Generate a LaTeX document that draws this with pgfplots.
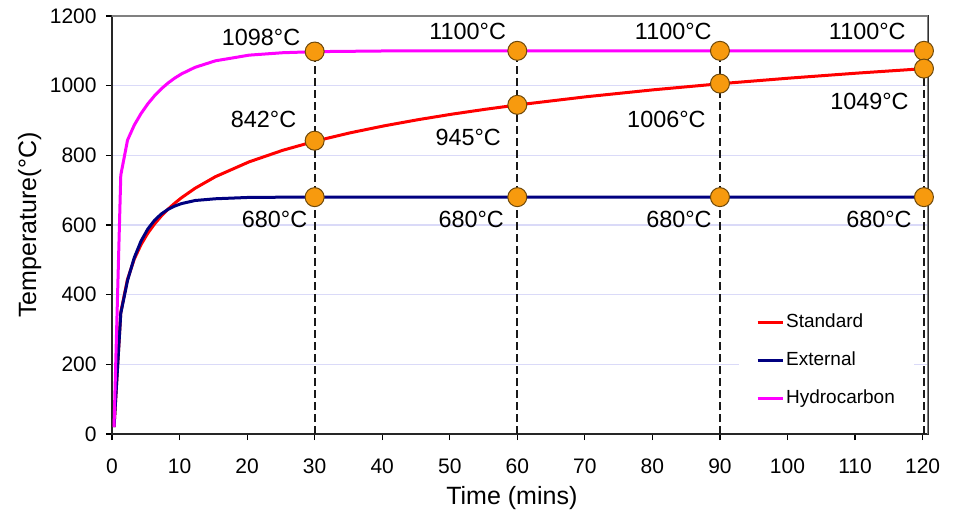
\documentclass[border=0pt]{standalone}
\usepackage{fontspec}
\setmainfont{Liberation Sans}
\usepackage{pgfplots}
\pgfplotsset{compat=1.18}
\definecolor{gridc}{RGB}{218,218,248}
\definecolor{mfill}{RGB}{247,154,14}
\definecolor{mdraw}{RGB}{110,72,10}
\definecolor{stdc}{RGB}{255,0,0}
\definecolor{extc}{RGB}{0,0,128}
\definecolor{hydc}{RGB}{255,0,255}
\begin{document}
\begin{tikzpicture}[lbl/.style={font=\fontsize{11.7}{14}\selectfont, inner sep=0pt}]
\begin{axis}[
  name=ax,
  scale only axis,
  width=408pt, height=209pt,
  xmin=0, xmax=120.8, ymin=0, ymax=1200,
  xtick={0,10,...,120}, ytick={0,200,...,1200},
  xtick pos=bottom, ytick pos=left,
  tick align=outside, major tick length=3pt,
  tick style={black, line width=0.6pt},
  /pgf/number format/assume math mode=true,
  /pgf/number format/1000 sep={},
  tick label style={font=\fontsize{10.5}{12}\selectfont},
  yticklabel style={anchor=east, inner sep=0pt, xshift=-4.5pt},
  xticklabel style={anchor=north, inner sep=0pt, yshift=-9pt},
  ymajorgrids, grid style={gridc, line width=0.6pt},
  axis line style={black!85, line width=0.8pt},
  xlabel={Time (mins)}, ylabel={Temperature(°C)},
  label style={font=\fontsize{12.5}{14}\selectfont, inner sep=0pt},
  xlabel style={at={(axis description cs:0.490,-0.153)}, anchor=center},
  ylabel style={at={(axis description cs:-0.101,0.5)}, anchor=center},
  legend cell align=left,
  legend image code/.code={\draw[#1, line width=1.5pt] (0pt,0pt) -- (12.5pt,0pt);},
  legend style={at={(axis description cs:0.768,0.175)}, anchor=west, draw=none, fill=white,
    font=\fontsize{9.5}{11}\selectfont, inner xsep=8.5pt, inner ysep=5pt, row sep=5pt,
    nodes={inner xsep=1pt, inner ysep=2pt, text height=0.75em, text depth=0.25em}},
]
\addplot[stdc, line width=1.5pt] coordinates {
 (0.3,20) (1.3,349.2) (2.3,444.5) (3.3,502.3) (4.3,543.9) (5.3,576.4) (6.3,603.1) (7.3,625.8)
 (8.3,645.5) (9.3,662.8) (10.3,678.4) (12.3,705.4) (15.3,738.6) (20.3,781.3) (25.3,814.6)
 (30.3,841.8) (35.3,864.8) (40.3,884.7) (45.3,902.3) (50.3,918.1) (55.3,932.3) (60.3,945.3)
 (70.3,968.4) (80.3,988.4) (90.3,1006.0) (100.3,1021.7) (110.3,1036.0) (120.3,1049.0)};
\addlegendentry{Standard}
\addplot[extc, line width=1.5pt] coordinates {
 (0.3,20) (1.3,346.2) (2.3,440.8) (3.3,506.4) (4.3,553.9) (5.3,588.5) (6.3,613.5) (7.3,631.7)
 (8.3,645.0) (9.3,654.5) (10.3,661.5) (12.3,670.3) (15.3,675.3) (20.3,679.2) (25.3,679.8)
 (30.3,680) (60.3,680) (90.3,680) (120.3,680)};
\addlegendentry{External}
\addplot[hydc, line width=1.5pt] coordinates {
 (0.3,20) (1.3,743.2) (2.3,843.7) (3.3,886.9) (4.3,920.0) (5.3,947.7) (6.3,971.1) (7.3,990.9)
 (8.3,1007.7) (9.3,1021.9) (10.3,1033.9) (12.3,1052.7) (15.3,1071.3) (20.3,1087.6) (25.3,1094.6)
 (30.3,1097.7) (40.3,1099.6) (60.3,1100) (90.3,1100) (120.3,1100)};
\addlegendentry{Hydrocarbon}
% dashed drop lines
\addplot[forget plot, black!90, line width=1pt, dash pattern=on 4pt off 2pt] coordinates {(30,0) (30,1098)};
\addplot[forget plot, black!90, line width=1pt, dash pattern=on 4pt off 2pt] coordinates {(60,0) (60,1100)};
\addplot[forget plot, black!90, line width=1pt, dash pattern=on 4pt off 2pt] coordinates {(90,0) (90,1100)};
\addplot[forget plot, black!90, line width=1pt, dash pattern=on 4pt off 2pt] coordinates {(120.2,0) (120.2,1100)};
% markers
\addplot[forget plot, only marks, mark=*, mark size=4.75pt, mark options={fill=mfill, draw=mdraw, line width=0.5pt}]
 coordinates {(30,1098) (60,1100) (90,1100) (120.2,1100)
              (30,842) (60,945) (90,1006) (120.2,1049)
              (30,680) (60,680) (90,680) (120.2,680)};
% labels
\node[lbl, anchor=base east, xshift=-7pt, yshift=3pt] at (axis cs:30,1098) {1098°C};
\node[lbl, anchor=base east, xshift=-5.5pt, yshift=5.5pt] at (axis cs:60,1100) {1100°C};
\node[lbl, anchor=base east, xshift=-4pt, yshift=5.5pt] at (axis cs:90,1100) {1100°C};
\node[lbl, anchor=base east, xshift=-9pt, yshift=5.5pt] at (axis cs:120.2,1100) {1100°C};
\node[lbl, anchor=base east, xshift=-9pt, yshift=6.5pt] at (axis cs:30,842) {842°C};
\node[lbl, anchor=north east, xshift=-8pt, yshift=-12pt] at (axis cs:60,945) {945°C};
\node[lbl, anchor=north east, xshift=-7pt, yshift=-13.5pt] at (axis cs:90,1006) {1006°C};
\node[lbl, anchor=north east, xshift=-7.5pt, yshift=-12pt] at (axis cs:120.2,1049) {1049°C};
\node[lbl, anchor=north east, xshift=-3.5pt, yshift=-7pt] at (axis cs:30,680) {680°C};
\node[lbl, anchor=north east, xshift=-6.5pt, yshift=-7pt] at (axis cs:60,680) {680°C};
\node[lbl, anchor=north east, xshift=-4pt, yshift=-7pt] at (axis cs:90,680) {680°C};
\node[lbl, anchor=north east, xshift=-6pt, yshift=-7pt] at (axis cs:120.2,680) {680°C};
% grey top and right frame
\draw[gray, line width=1pt] (rel axis cs:0,1) -- (rel axis cs:1,1) -- (rel axis cs:1,0);
\end{axis}
\pgfresetboundingbox
\path[use as bounding box] ([xshift=-56pt,yshift=-42.5pt]ax.south west) rectangle ([xshift=14pt,yshift=8pt]ax.north east);
\end{tikzpicture}
\end{document}
